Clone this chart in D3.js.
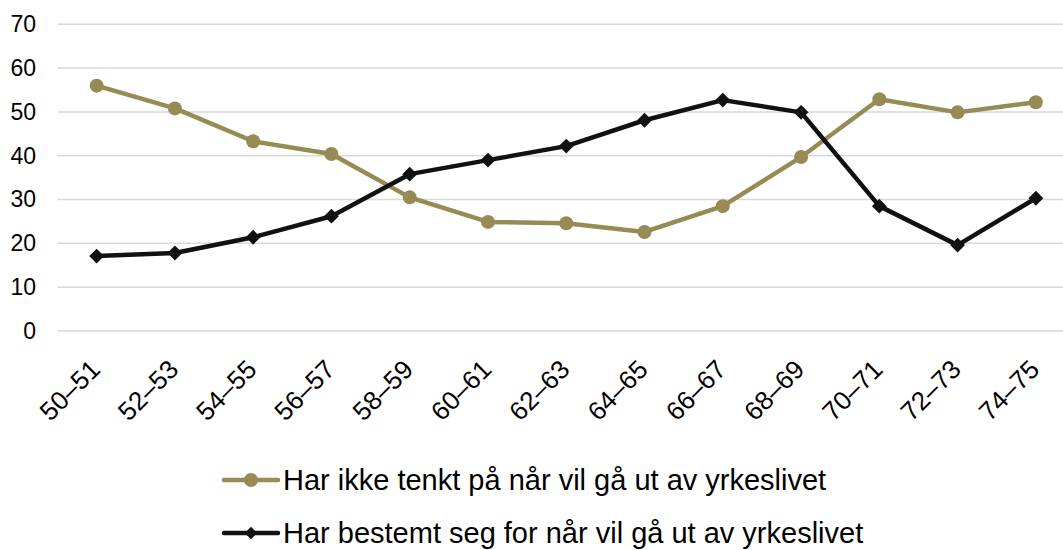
<!DOCTYPE html>
<html>
<head>
<meta charset="utf-8">
<script src="https://cdn.jsdelivr.net/npm/d3@7"></script>
<style>
  body { margin: 0; background: #fff; }
  text { font-family: "Liberation Sans", Arial, sans-serif; fill: #000; }
</style>
</head>
<body>
<div id="chart"></div>
<script>
// Chart dimensions
var width = 1063;
var height = 550;

// Data
var categories = ["50–51", "52–53", "54–55", "56–57", "58–59", "60–61", "62–63",
                  "64–65", "66–67", "68–69", "70–71", "72–73", "74–75"];
var ikkeTenkt = [56, 50.8, 43.3, 40.4, 30.5, 24.9, 24.6, 22.6, 28.5, 39.7, 52.9, 49.9, 52.2];
var bestemt = [17.1, 17.8, 21.4, 26.2, 35.8, 39, 42.2, 48.1, 52.7, 49.9, 28.5, 19.6, 30.3];
var yTicks = [0, 10, 20, 30, 40, 50, 60, 70];
var seriesNames = ["Har ikke tenkt på når vil gå ut av yrkeslivet",
                   "Har bestemt seg for når vil gå ut av yrkeslivet"];

// Colors
var olive = "#968b55";
var black = "#111111";

// Scales
var x = d3.scaleBand().domain(categories).range([57.5, 1075]);
var y = d3.scaleLinear().domain([0, 70]).range([331, 24.3]);

var svg = d3.select("#chart")
    .append("svg")
    .attr("width", width)
    .attr("height", height);

// Gridlines
svg.append("g")
    .selectAll("line")
    .data(yTicks)
    .enter()
    .append("line")
    .attr("x1", 57.5)
    .attr("x2", width)
    .attr("y1", function(d) { return y(d); })
    .attr("y2", function(d) { return y(d); })
    .attr("stroke", "#d9d9d9")
    .attr("stroke-width", 1.5);

// Y axis labels
var yAxis = d3.axisLeft(y).tickValues(yTicks).tickSize(0).tickPadding(0);
svg.append("g")
    .attr("transform", "translate(36,0)")
    .call(yAxis)
    .call(function(g) { g.select(".domain").remove(); })
    .selectAll("text")
    .attr("font-size", 23)
    .attr("font-family", "Liberation Sans, Arial, sans-serif")
    .attr("fill", "#000");

// X axis labels, rotated
var xAxis = d3.axisBottom(x).tickSize(0).tickPadding(0);
svg.append("g")
    .attr("transform", "translate(0,331)")
    .call(xAxis)
    .call(function(g) { g.select(".domain").remove(); })
    .selectAll("text")
    .attr("font-size", 26)
    .attr("font-family", "Liberation Sans, Arial, sans-serif")
    .attr("fill", "#000")
    .attr("text-anchor", "end")
    .attr("dy", 0)
    .attr("transform", "translate(5,40) rotate(-45)");

function cx(d, i) { return x(categories[i]) + x.bandwidth() / 2; }

var line = d3.line()
    .x(function(d, i) { return cx(d, i); })
    .y(function(d) { return y(d); });

var diamond = d3.symbol().type(d3.symbolSquare).size(110);

// Olive series
svg.append("path")
    .datum(ikkeTenkt)
    .attr("d", line)
    .attr("fill", "none")
    .attr("stroke", olive)
    .attr("stroke-width", 4.5)
    .attr("stroke-linejoin", "round");

svg.append("g")
    .selectAll("circle")
    .data(ikkeTenkt)
    .enter()
    .append("circle")
    .attr("cx", cx)
    .attr("cy", function(d) { return y(d); })
    .attr("r", 7)
    .attr("fill", olive);

// Black series
svg.append("path")
    .datum(bestemt)
    .attr("d", line)
    .attr("fill", "none")
    .attr("stroke", black)
    .attr("stroke-width", 4.5)
    .attr("stroke-linejoin", "round");

svg.append("g")
    .selectAll("path")
    .data(bestemt)
    .enter()
    .append("path")
    .attr("d", diamond)
    .attr("transform", function(d, i) {
        return "translate(" + cx(d, i) + "," + y(d) + ") rotate(45)";
    })
    .attr("fill", black);

// Legend
var legend = svg.append("g");
var legendRows = [
    { name: seriesNames[0], color: olive, marker: "circle", y: 480 },
    { name: seriesNames[1], color: black, marker: "diamond", y: 533 }
];

legendRows.forEach(function(r) {
    legend.append("line")
        .attr("x1", 224)
        .attr("x2", 278)
        .attr("y1", r.y)
        .attr("y2", r.y)
        .attr("stroke", r.color)
        .attr("stroke-width", 4.5)
        .attr("stroke-linecap", "round");

    if (r.marker === "circle") {
        legend.append("circle")
            .attr("cx", 251)
            .attr("cy", r.y)
            .attr("r", 7)
            .attr("fill", r.color);
    } else {
        legend.append("path")
            .attr("d", d3.symbol().type(d3.symbolSquare).size(80))
            .attr("transform", "translate(251," + r.y + ") rotate(45)")
            .attr("fill", r.color);
    }

    legend.append("text")
        .attr("x", 283)
        .attr("y", r.y)
        .attr("dy", "0.35em")
        .attr("font-size", 29)
        .text(r.name);
});
</script>
</body>
</html>
